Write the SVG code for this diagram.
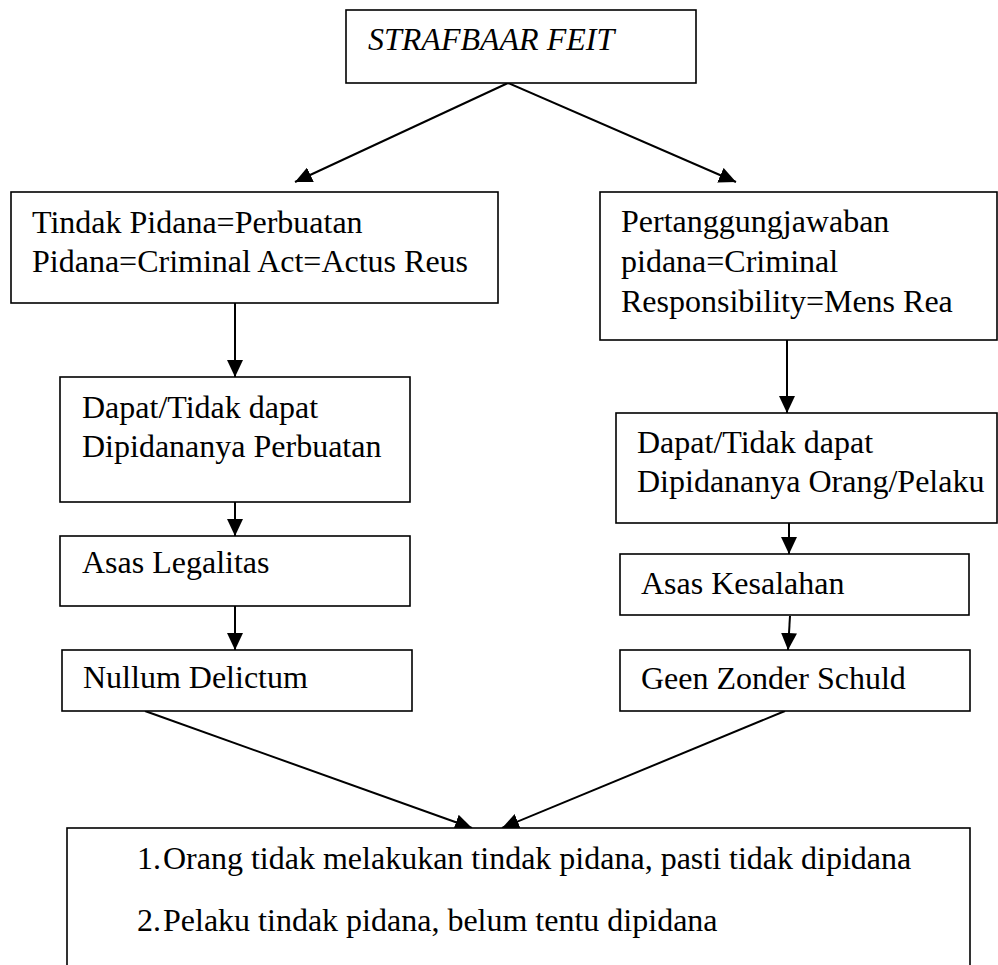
<svg xmlns="http://www.w3.org/2000/svg" width="998" height="965" viewBox="0 0 998 965">
  <style>
    .box { fill: #ffffff; stroke: #000000; stroke-width: 1.6; }
    .t { font-family: "Liberation Serif", "Times New Roman", serif; font-size: 32px; fill: #000000; }
    .ti { font-style: italic; }
    .c { stroke: #000000; stroke-width: 2; fill: none; marker-end: url(#arr); }
  </style>
  <defs>
    <marker id="arr" markerUnits="userSpaceOnUse" markerWidth="18" markerHeight="16" refX="17" refY="8" orient="auto">
      <path d="M0,0 L17,8 L0,16 Z" fill="#000000"/>
    </marker>
  </defs>
  <rect width="998" height="965" fill="#ffffff"/>

  <g id="connectors">
    <line class="c" x1="508" y1="83" x2="295" y2="182"/>
    <line class="c" x1="508" y1="83" x2="736" y2="182"/>
    <line class="c" x1="235" y1="303" x2="235" y2="377"/>
    <line class="c" x1="235" y1="502" x2="235" y2="536"/>
    <line class="c" x1="235" y1="606" x2="235" y2="650"/>
    <line class="c" x1="787" y1="340" x2="787" y2="413"/>
    <line class="c" x1="789" y1="523" x2="789" y2="554"/>
    <line class="c" x1="790" y1="616" x2="788" y2="650"/>
    <line class="c" x1="145" y1="711" x2="472" y2="828"/>
    <line class="c" x1="785" y1="711" x2="502" y2="828"/>
  </g>

  <g id="strafbaar-feit">
    <rect class="box" x="346" y="10" width="350" height="73"/>
    <text class="t ti" x="368" y="50">STRAFBAAR FEIT</text>
  </g>

  <g id="tindak-pidana">
    <rect class="box" x="11" y="192" width="487" height="111"/>
    <text class="t" x="32" y="233">Tindak Pidana=Perbuatan</text>
    <text class="t" x="32" y="272">Pidana=Criminal Act=Actus Reus</text>
  </g>

  <g id="pertanggungjawaban">
    <rect class="box" x="600" y="192" width="397" height="148"/>
    <text class="t" x="621" y="232">Pertanggungjawaban</text>
    <text class="t" x="621" y="272">pidana=Criminal</text>
    <text class="t" x="621" y="312">Responsibility=Mens Rea</text>
  </g>

  <g id="dapat-perbuatan">
    <rect class="box" x="60" y="377" width="350" height="125"/>
    <text class="t" x="82" y="418">Dapat/Tidak dapat</text>
    <text class="t" x="82" y="457">Dipidananya Perbuatan</text>
  </g>

  <g id="asas-legalitas">
    <rect class="box" x="60" y="536" width="350" height="70"/>
    <text class="t" x="82" y="573">Asas Legalitas</text>
  </g>

  <g id="nullum-delictum">
    <rect class="box" x="62" y="650" width="350" height="61"/>
    <text class="t" x="83" y="688">Nullum Delictum</text>
  </g>

  <g id="dapat-pelaku">
    <rect class="box" x="616" y="413" width="381" height="110"/>
    <text class="t" x="637" y="453">Dapat/Tidak dapat</text>
    <text class="t" x="637" y="492">Dipidananya Orang/Pelaku</text>
  </g>

  <g id="asas-kesalahan">
    <rect class="box" x="620" y="554" width="349" height="61"/>
    <text class="t" x="641" y="594">Asas Kesalahan</text>
  </g>

  <g id="geen-zonder-schuld">
    <rect class="box" x="620" y="650" width="350" height="61"/>
    <text class="t" x="641" y="689">Geen Zonder Schuld</text>
  </g>

  <g id="kesimpulan">
    <rect class="box" x="67" y="828" width="903" height="160"/>
    <text class="t" x="137" y="869">1.</text>
    <text class="t" x="163" y="869">Orang tidak melakukan tindak pidana, pasti tidak dipidana</text>
    <text class="t" x="137" y="931">2.</text>
    <text class="t" x="163" y="931">Pelaku tindak pidana, belum tentu dipidana</text>
  </g>
</svg>
